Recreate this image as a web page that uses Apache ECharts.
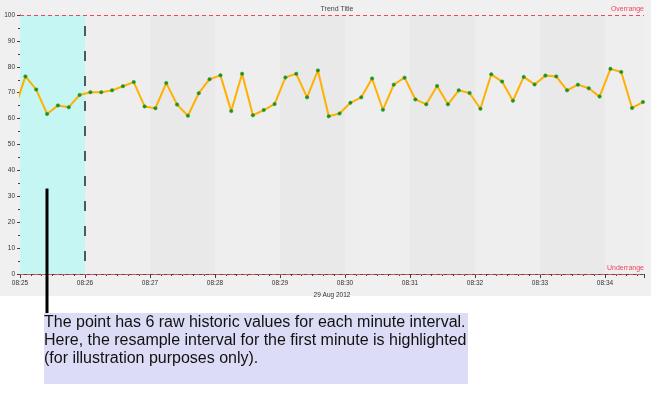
<!DOCTYPE html>
<html>
<head>
<meta charset="utf-8">
<script src="https://cdn.jsdelivr.net/npm/echarts@6/dist/echarts.min.js"></script>
<style>
  html, body { margin: 0; padding: 0; background: #ffffff; }
  #chart { width: 651px; height: 396px;
    background: linear-gradient(to bottom, #f0f0f0 0px, #f0f0f0 296px, #ffffff 296px, #ffffff 396px); }
</style>
</head>
<body>
<div id="chart"></div>
<script>
// ---- data ----
const title = 'Trend Title';
const dateLabel = '29 Aug 2012';
const axisStart = '2012-08-29T08:25:00';
const axisEnd = '2012-08-29T08:34:36';
const highlightStart = '2012-08-29T08:25:00';
const highlightEnd = '2012-08-29T08:26:00';
const annotationTime = '2012-08-29T08:25:25';
const annotationValue = 33;
const overrange = 100;
const underrange = 0;
const yTicks = [0, 10, 20, 30, 40, 50, 60, 70, 80, 90, 100];
const sampleTimes = [
  '08:24:55',
  '08:25:05','08:25:15','08:25:25','08:25:35','08:25:45','08:25:55',
  '08:26:05','08:26:15','08:26:25','08:26:35','08:26:45','08:26:55',
  '08:27:05','08:27:15','08:27:25','08:27:35','08:27:45','08:27:55',
  '08:28:05','08:28:15','08:28:25','08:28:35','08:28:45','08:28:55',
  '08:29:05','08:29:15','08:29:25','08:29:35','08:29:45','08:29:55',
  '08:30:05','08:30:15','08:30:25','08:30:35','08:30:45','08:30:55',
  '08:31:05','08:31:15','08:31:25','08:31:35','08:31:45','08:31:55',
  '08:32:05','08:32:15','08:32:25','08:32:35','08:32:45','08:32:55',
  '08:33:05','08:33:15','08:33:25','08:33:35','08:33:45','08:33:55',
  '08:34:05','08:34:15','08:34:25','08:34:35'
];
const sampleValues = [
  63.7,
  76.3, 71.2, 61.8, 65.1, 64.4, 69.1,
  70.2, 70.2, 70.9, 72.5, 74.1, 64.7,
  64.0, 73.7, 65.4, 61.1, 69.8, 75.2,
  76.7, 62.9, 77.3, 61.3, 63.3, 65.6,
  75.9, 77.3, 68.2, 78.6, 60.9, 62.0,
  66.1, 68.2, 75.5, 63.4, 73.1, 75.8,
  67.4, 65.5, 72.6, 65.5, 70.9, 69.9,
  63.8, 77.1, 74.3, 66.9, 76.1, 73.2,
  76.6, 76.3, 70.9, 73.1, 71.7, 68.5,
  79.2, 78.0, 64.1, 66.4
];
const noteText = 'The point has 6 raw historic values for each minute interval.\nHere, the resample interval for the first minute is highlighted\n(for illustration purposes only).';

// ---- helpers ----
function toMs(s) { return Date.parse(s + 'Z'); }
function sampleMs(t) { return Date.parse('2012-08-29T' + t + 'Z'); }
function pad(n) { return (n < 10 ? '0' : '') + n; }
const seriesData = sampleTimes.map((t, i) => [sampleMs(t), sampleValues[i]]);

const smallFont = 'Liberation Sans';
const redCol = '#f2455e';

const chart = echarts.init(document.getElementById('chart'), null, { renderer: 'canvas' });
const option = {
  backgroundColor: 'transparent',
  animation: false,
  title: {
    text: title, left: 332, top: 1, textAlign: 'center',
    textStyle: { fontFamily: smallFont, fontSize: 7, fontWeight: 'normal', color: '#444' }
  },
  grid: { left: 20, top: 15, right: 7, bottom: 122, containLabel: false },
  xAxis: {
    type: 'value',
    min: toMs(axisStart), max: toMs(axisEnd), interval: 60000,
    name: dateLabel, nameLocation: 'middle', nameGap: 18,
    nameTextStyle: { fontFamily: smallFont, fontSize: 6.5, color: '#333' },
    axisLine: { show: true, lineStyle: { color: '#505050', width: 1 } },
    axisTick: { show: true, length: 4, lineStyle: { color: '#404040' } },
    minorTick: { show: true, splitNumber: 6, length: 2, lineStyle: { color: '#404040' } },
    axisLabel: {
      fontFamily: smallFont, fontSize: 6.5, color: '#333', margin: 6,
      showMaxLabel: false,
      formatter: v => { const d = new Date(v); return pad(d.getUTCHours()) + ':' + pad(d.getUTCMinutes()); }
    },
    splitLine: { show: false },
    splitArea: { show: true, areaStyle: { color: ['#e9e9e9', '#eeeeee'] } }
  },
  yAxis: {
    type: 'value', min: yTicks[0], max: yTicks[yTicks.length - 1], interval: 10,
    axisLine: { show: true, lineStyle: { color: '#404040', width: 1 } },
    axisTick: { show: true, length: 3, lineStyle: { color: '#404040' } },
    minorTick: { show: true, splitNumber: 2, length: 2, lineStyle: { color: '#404040' } },
    axisLabel: { fontFamily: smallFont, fontSize: 6.5, color: '#333', margin: 5 },
    splitLine: { show: false }
  },
  series: [{
    type: 'line',
    data: seriesData,
    clip: true,
    symbol: 'circle', symbolSize: 3.5, showSymbol: true,
    itemStyle: { color: '#1f8f1f', borderColor: '#2f9f2f', borderWidth: 0.5 },
    lineStyle: { color: '#ffb000', width: 2 },
    z: 5,
    markArea: {
      silent: true,
      itemStyle: { color: '#c6f6f4' },
      data: [[{ xAxis: toMs(highlightStart) }, { xAxis: toMs(highlightEnd) }]]
    },
    markLine: {
      silent: true, symbol: 'none', animation: false,
      data: [
        { yAxis: overrange, lineStyle: { color: redCol, type: [4, 3], width: 1 },
          label: { show: true, formatter: 'Overrange', position: 'insideEndTop', distance: [0, 2],
                   fontFamily: smallFont, fontSize: 7, color: redCol } },
        { yAxis: underrange, lineStyle: { color: redCol, type: [4, 3], width: 1 },
          label: { show: true, formatter: 'Underrange', position: 'insideEndTop', distance: [0, 2],
                   fontFamily: smallFont, fontSize: 7, color: redCol } },
        { xAxis: toMs(highlightEnd), lineStyle: { color: '#4f5a5a', type: [10, 15], dashOffset: 12, width: 2 },
          label: { show: false } }
      ]
    }
  }]
};
chart.setOption(option);

// annotation (pointer line and note box) positioned from the axes
const p = chart.convertToPixel({ gridIndex: 0 }, [toMs(annotationTime), annotationValue]);
const boxLeft = 44, boxTop = 313, boxW = 424, boxH = 71;
chart.setOption({
  graphic: [
    { type: 'rect', shape: { x: Math.round(p[0]) - 1.5, y: p[1], width: 3, height: boxTop - p[1] },
      style: { fill: '#000' }, z: 100 },
    { type: 'rect', shape: { x: boxLeft, y: boxTop, width: boxW, height: boxH },
      style: { fill: '#dcdcf6' }, z: 99 },
    { type: 'text', x: boxLeft, y: boxTop + 1, z: 101,
      style: { text: noteText, fontFamily: 'Liberation Sans', fontSize: 16, lineHeight: 18,
               fill: '#111', align: 'left', verticalAlign: 'top' } }
  ]
});
</script>
</body>
</html>
